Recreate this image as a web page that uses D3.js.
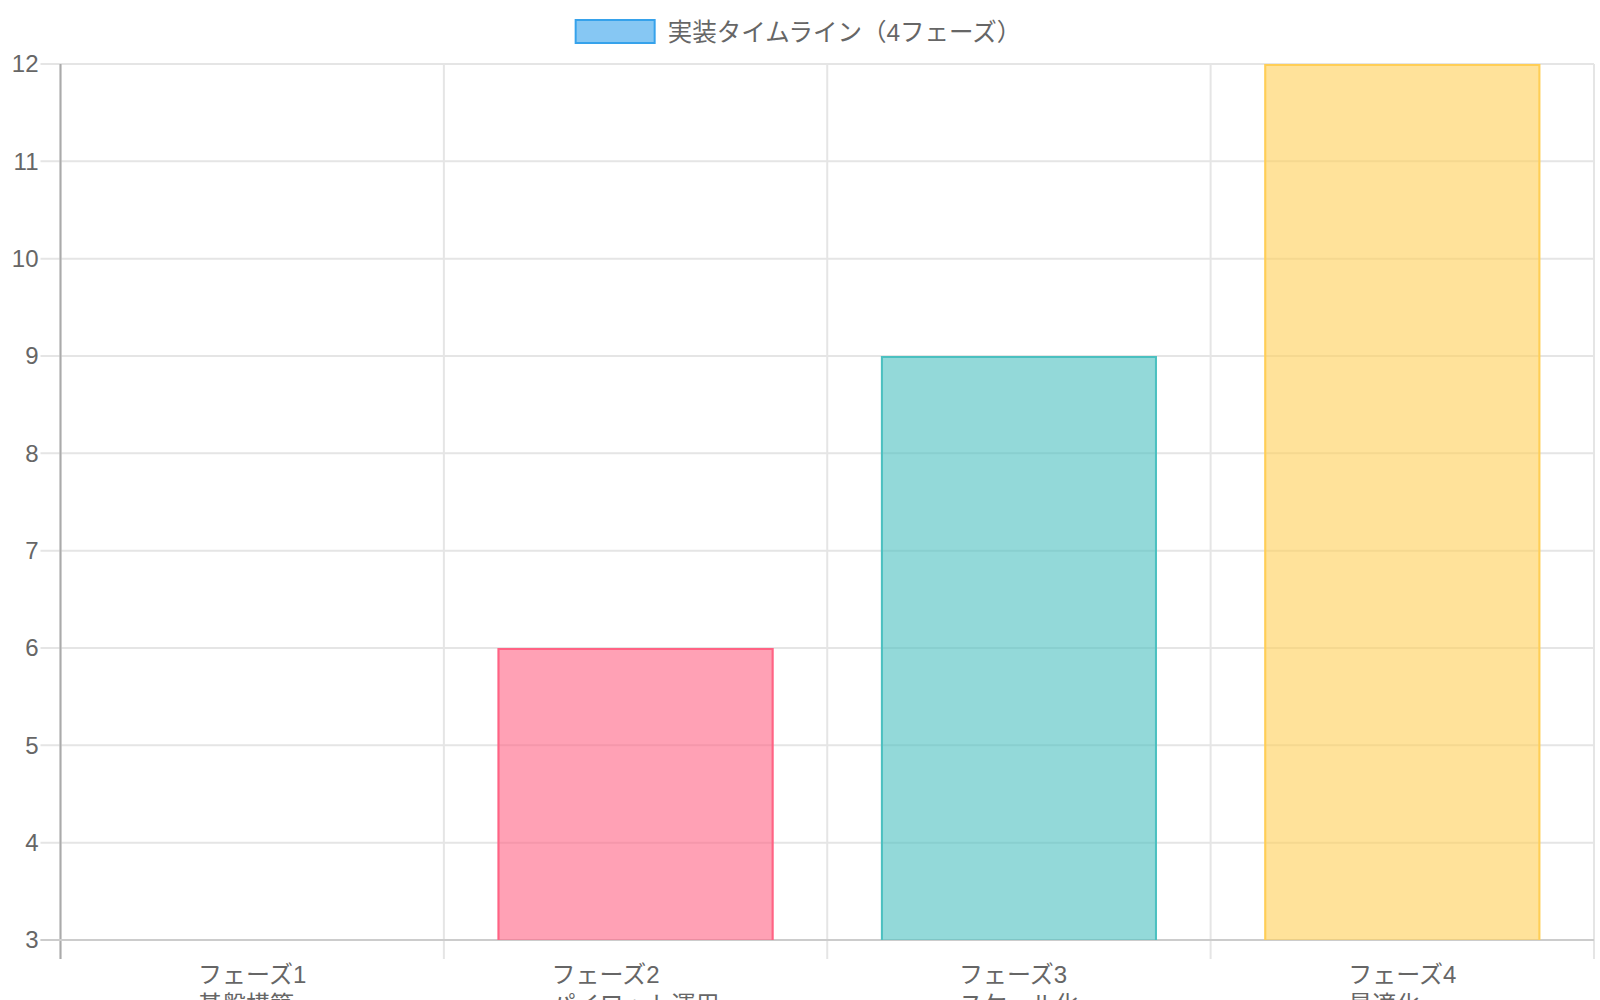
<!DOCTYPE html>
<html>
<head>
<meta charset="utf-8">
<script src="https://cdn.jsdelivr.net/npm/d3@7/dist/d3.min.js"></script>
<style>
  html, body { margin: 0; padding: 0; background: #fff; overflow: hidden; }
  text { font-family: "Liberation Sans", "Noto Sans CJK JP", sans-serif; fill: #666; }
</style>
</head>
<body>
<script>
// データ
var phases = ["フェーズ1", "フェーズ2", "フェーズ3", "フェーズ4"];
var phaseNames = ["基盤構築", "パイロット運用", "スケール化", "最適化"];
var months = [3, 6, 9, 12];
var yTicks = [3, 4, 5, 6, 7, 8, 9, 10, 11, 12];
var fillColors = ["rgba(54,162,235,0.6)", "rgba(255,99,132,0.6)", "rgba(75,192,192,0.6)", "rgba(255,206,86,0.6)"];
var borderColors = ["rgb(54,162,235)", "rgb(255,99,132)", "rgb(75,192,192)", "rgb(255,206,86)"];
var legendLabel = "実装タイムライン（4フェーズ）";

var width = 1600, height = 1000;
var margin = {top: 64, right: 6, bottom: 60, left: 60.5};
var fontSize = 24;

var svg = d3.select("body").append("svg")
    .attr("width", width)
    .attr("height", height);

var x = d3.scaleBand()
    .domain(phases)
    .range([margin.left, width - margin.right])
    .padding(0);

var y = d3.scaleLinear()
    .domain([3, 12])
    .range([height - margin.bottom, margin.top]);

var bw = x.bandwidth();
var grid = svg.append("g");

// 横のグリッド線
grid.selectAll("line.h")
    .data(yTicks)
    .enter().append("line")
    .attr("x1", margin.left - 20)
    .attr("x2", width - margin.right)
    .attr("y1", function(d){ return y(d); })
    .attr("y2", function(d){ return y(d); })
    .attr("stroke", "#e5e5e5")
    .attr("stroke-width", 2);

// 縦のグリッド線
var edges = phases.map(function(p){ return x(p); }).concat([x(phases[phases.length - 1]) + bw]);
grid.selectAll("line.v")
    .data(edges)
    .enter().append("line")
    .attr("x1", function(d){ return d; })
    .attr("x2", function(d){ return d; })
    .attr("y1", margin.top)
    .attr("y2", height - margin.bottom + 19)
    .attr("stroke", "#e5e5e5")
    .attr("stroke-width", 2);

// 軸の線
svg.append("line")
    .attr("x1", margin.left).attr("x2", margin.left)
    .attr("y1", margin.top).attr("y2", height - margin.bottom + 19)
    .attr("stroke", "#aaaaaa").attr("stroke-width", 2);
svg.append("line")
    .attr("x1", margin.left - 20).attr("x2", width - margin.right)
    .attr("y1", y(3)).attr("y2", y(3))
    .attr("stroke", "#cccccc").attr("stroke-width", 2);

// Y軸ラベル
svg.selectAll("text.ytick")
    .data(yTicks)
    .enter().append("text")
    .attr("x", margin.left - 22)
    .attr("y", function(d){ return y(d); })
    .attr("dy", "0.35em")
    .attr("text-anchor", "end")
    .style("font-size", fontSize + "px")
    .text(function(d){ return d; });

// 棒
var barW = bw * 0.72;
var bars = svg.selectAll("g.bar")
    .data(phases)
    .enter().append("g");

bars.append("rect")
    .attr("x", function(d){ return x(d) + (bw - barW) / 2; })
    .attr("y", function(d, i){ return y(months[i]); })
    .attr("width", barW)
    .attr("height", function(d, i){ return y(3) - y(months[i]); })
    .attr("fill", function(d, i){ return fillColors[i]; });

// 枠線（下辺なし）
bars.append("path")
    .attr("d", function(d, i){
        if (months[i] <= 3) return "";
        var x0 = x(d) + (bw - barW) / 2 + 1, x1 = x0 + barW - 2;
        var y0 = y(3), y1 = y(months[i]) + 1;
        return "M" + x0 + "," + y0 + "V" + y1 + "H" + x1 + "V" + y0;
    })
    .attr("fill", "none")
    .attr("stroke", function(d, i){ return borderColors[i]; })
    .attr("stroke-width", 2);

// X軸ラベル（2行）
phases.forEach(function(p, i){
    var g = svg.append("g");
    var t1 = g.append("text")
        .attr("y", 975)
        .attr("dy", "0.35em")
        .style("font-size", fontSize + "px")
        .text(p);
    var t2 = g.append("text")
        .attr("y", 1005)
        .attr("dy", "0.35em")
        .style("font-size", fontSize + "px")
        .text(phaseNames[i]);
    var w = Math.max(t1.node().getComputedTextLength(), t2.node().getComputedTextLength());
    var cx = x(p) + bw / 2;
    t1.attr("x", cx - w / 2);
    t2.attr("x", cx - w / 2);
});

// 凡例
var legend = svg.append("g");
var lt = legend.append("text")
    .attr("y", 32)
    .attr("dy", "0.35em")
    .style("font-size", "24.5px")
    .text(legendLabel);
var tw = lt.node().getComputedTextLength();
var total = 80 + 13 + tw;
var lx = width / 2 - 2 - total / 2;
legend.insert("rect", "text")
    .attr("x", lx + 1)
    .attr("y", 20)
    .attr("width", 79)
    .attr("height", 23)
    .attr("fill", fillColors[0])
    .attr("stroke", borderColors[0])
    .attr("stroke-width", 2);
lt.attr("x", lx + 80 + 13);
</script>
</body>
</html>
